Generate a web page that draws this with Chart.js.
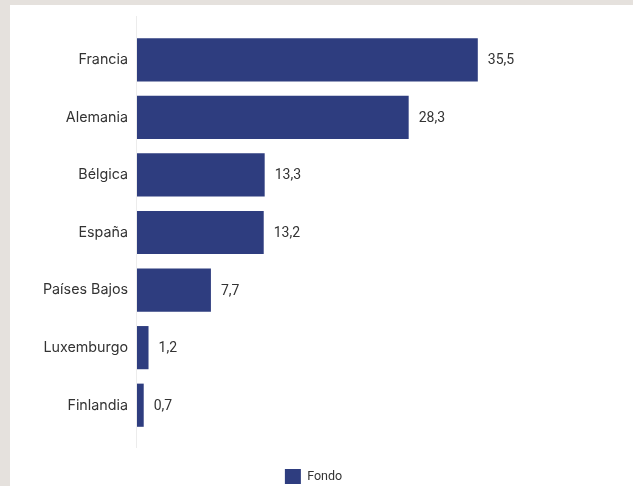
<!DOCTYPE html>
<html>
<head>
<meta charset="utf-8">
<script src="https://cdn.jsdelivr.net/npm/chart.js@4.4.0/dist/chart.umd.min.js"></script>
<style>
  html, body { margin: 0; padding: 0; background: #e5e1dd; }
  body { width: 633px; height: 486px; position: relative; overflow: hidden; }
  #panel { position: absolute; left: 10px; top: 5px; width: 623px; height: 489px; background: #fff; }
</style>
</head>
<body>
<div id="panel"><canvas id="chart"></canvas></div>
<script>
const categories = ['Francia', 'Alemania', 'Bélgica', 'España', 'Países Bajos', 'Luxemburgo', 'Finlandia'];
const fondoValues = [35.5, 28.3, 13.3, 13.2, 7.7, 1.2, 0.7];
const seriesLabel = 'Fondo';

const barColor = '#2e3d7f';
const textColor = '#333333';

// value labels to the right of each bar, comma as decimal separator
const valueLabels = {
    id: 'valueLabels',
    afterDatasetsDraw(chart) {
        const ctx = chart.ctx;
        const meta = chart.getDatasetMeta(0);
        ctx.save();
        ctx.font = '14px Roboto';
        ctx.fillStyle = textColor;
        ctx.textBaseline = 'middle';
        ctx.textAlign = 'left';
        meta.data.forEach((bar, i) => {
            const txt = fondoValues[i].toFixed(1).replace('.', ',');
            ctx.fillText(txt, bar.x + 10, bar.y + 1);
        });
        ctx.restore();
    }
};

// thin vertical axis line that runs a bit past the bars
const axisLine = {
    id: 'axisLine',
    beforeDatasetsDraw(chart) {
        const { ctx, chartArea } = chart;
        ctx.save();
        ctx.strokeStyle = '#ececec';
        ctx.lineWidth = 1;
        ctx.beginPath();
        ctx.moveTo(chartArea.left - 0.5, chartArea.top - 15);
        ctx.lineTo(chartArea.left - 0.5, chartArea.bottom + 14);
        ctx.stroke();
        ctx.restore();
    }
};

new Chart(document.getElementById('chart'), {
    type: 'bar',
    data: {
        labels: categories,
        datasets: [{
            label: seriesLabel,
            data: fondoValues,
            backgroundColor: barColor,
            borderWidth: 0,
            categoryPercentage: 1,
            barPercentage: 0.75,
        }],
    },
    options: {
        indexAxis: 'y',
        responsive: true,
        maintainAspectRatio: false,
        animation: false,
        layout: { padding: { top: 26, right: 16, left: 0, bottom: 0 } },
        scales: {
            x: {
                min: 0,
                max: 50,
                grid: { display: false },
                border: { display: false },
                ticks: { display: false },
                afterFit: (scale) => { scale.height = 32; },
            },
            y: {
                grid: { display: false, drawTicks: false },
                border: { display: false },
                ticks: {
                    color: textColor,
                    font: { family: 'Inter', size: 14.3 },
                    padding: 9,
                },
                afterFit: (scale) => { scale.width = 127; },
            },
        },
        plugins: {
            legend: {
                position: 'bottom',
                labels: {
                    boxWidth: 16,
                    boxHeight: 15,
                    padding: 3,
                    color: textColor,
                    font: { family: 'Roboto', size: 12.5 },
                },
            },
            tooltip: { enabled: false },
        },
    },
    plugins: [valueLabels, axisLine],
});
</script>
</body>
</html>
